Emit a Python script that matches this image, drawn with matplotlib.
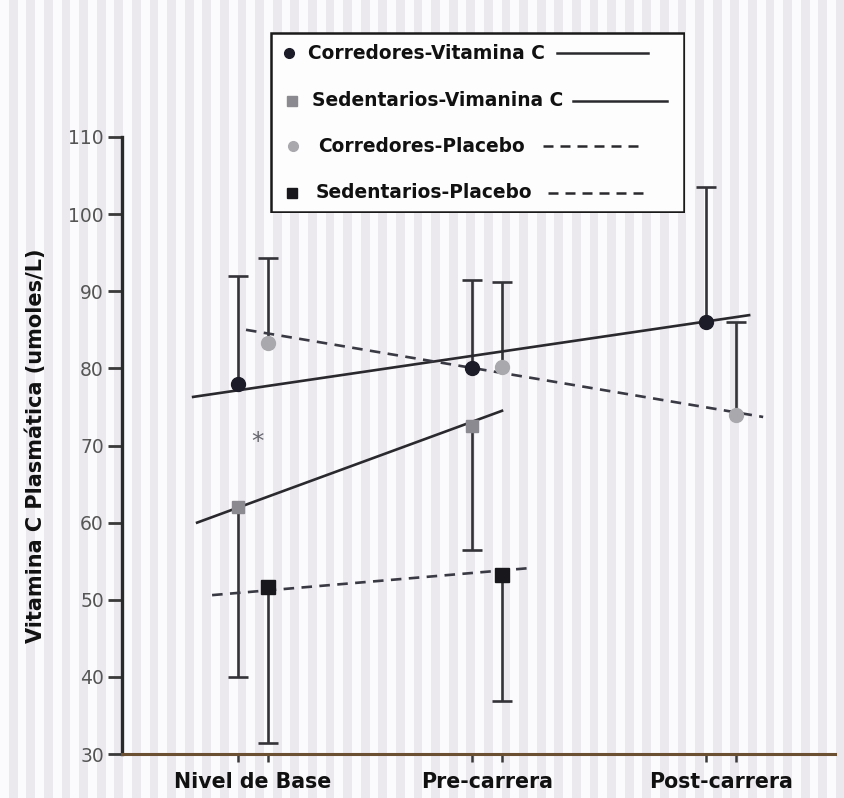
import matplotlib
matplotlib.use("Agg")
import matplotlib.pyplot as plt
from matplotlib.patches import Rectangle
import numpy as np

# data
categories = ["Nivel de Base", "Pre-carrera", "Post-carrera"]

corr_vit = [78.0, 80.0, 86.0]
corr_vit_err = [14.0, 11.5, 17.5]          # upward only
corr_pla = [83.3, 80.2, 74.0]
corr_pla_err = [11.0, 11.0, 12.0]          # upward only
sed_vit = [62.0, 72.5]
sed_vit_err = [22.0, 16.0]                 # downward only
sed_pla = [51.7, 53.2]
sed_pla_err = [20.3, 16.3]                 # downward only

# trend lines (start/end in category units)
corr_vit_fit_x = [-0.256, 2.12]
corr_vit_fit_y = [76.3, 86.9]
sed_vit_fit_x = [-0.239, 1.064]
sed_vit_fit_y = [60.0, 74.5]
corr_pla_fit_x = [-0.03, 2.18]
corr_pla_fit_y = [85.0, 73.7]
sed_pla_fit_x = [-0.175, 1.18]
sed_pla_fit_y = [50.6, 54.1]

legend_labels = ["Corredores-Vitamina C", "Sedentarios-Vimanina C",
                 "Corredores-Placebo", "Sedentarios-Placebo"]

W, H = 844, 798
fig = plt.figure(figsize=(W / 100, H / 100), dpi=100)
fig.patch.set_facecolor("#fbfafc")

# striped paper background
bg = fig.add_axes([0, 0, 1, 1], zorder=-5)
bg.set_xlim(0, W)
bg.set_ylim(0, H)
bg.axis("off")
period = 17.6
for x0 in np.arange(0, W, period):
    bg.axvspan(x0 + period * 0.5, x0 + period, color="#ebe8ee", lw=0)

ax = fig.add_axes([122 / W, 1 - 754 / H, (835 - 122) / W, (754 - 137) / H])
ax.set_facecolor("none")
ax.set_xlim(-0.56, 2.487)
ax.set_ylim(30, 110)

off = 0.064
idx = np.arange(len(categories))
left = idx - off
right = idx + off

ink = "#2a2a2e"
bar_col = "#333338"


def one_sided(x, y, err, up):
    y = np.asarray(y)
    end = y + np.asarray(err) if up else y - np.asarray(err)
    ax.vlines(x, y, end, color=bar_col, lw=1.9, zorder=3)
    ax.plot(x, end, "_", color=bar_col, ms=15, mew=1.9, zorder=3)


one_sided(left, corr_vit, corr_vit_err, True)
one_sided(right, corr_pla, corr_pla_err, True)
one_sided(left[:2], sed_vit, sed_vit_err, False)
one_sided(right[:2], sed_pla, sed_pla_err, False)

# trend lines
dash = (0, (4, 2.8))
ax.plot(corr_vit_fit_x, corr_vit_fit_y, color=ink, lw=1.9, zorder=4)
ax.plot(sed_vit_fit_x, sed_vit_fit_y, color=ink, lw=1.9, zorder=4)
ax.plot(corr_pla_fit_x, corr_pla_fit_y, color="#3a3a44", lw=1.9, ls=dash, zorder=4)
ax.plot(sed_pla_fit_x, sed_pla_fit_y, color="#3a3a44", lw=1.9, ls=dash, zorder=4)

# markers
ax.plot(left, corr_vit, "o", color="#1c1c28", ms=10, zorder=5)
ax.plot(right, corr_pla, "o", color="#a9a9ad", ms=10, zorder=5)
ax.plot(left[:2], sed_vit, "s", color="#8a8a90", ms=9, zorder=5)
ax.plot(right[:2], sed_pla, "s", color="#18181c", ms=9.5, zorder=5)

ax.text(0.017, 70.5, "*", ha="center", va="center", fontsize=18, color="#66666e")

# axes styling
for s in ["top", "right"]:
    ax.spines[s].set_visible(False)
ax.spines["left"].set_color("#2a2a2a")
ax.spines["left"].set_linewidth(2.4)
ax.spines["bottom"].set_color("#6b5032")
ax.spines["bottom"].set_linewidth(2.2)

ax.set_yticks(np.arange(30, 111, 10))
ax.tick_params(axis="y", direction="out", length=10, width=2, color="#3a3a3a",
               labelsize=13.5, labelcolor="#555555", pad=3)
ax.set_xticks(np.concatenate([left, right]))
ax.set_xticklabels([])
ax.tick_params(axis="x", which="major", direction="out", length=6, width=1.8, color="#3a3a3a")
ax.set_xticks(idx, minor=True)
ax.set_xticklabels(categories, minor=True, fontsize=14.8, fontweight="bold", color="#111111")
ax.tick_params(axis="x", which="minor", length=0, pad=13)

ax.set_ylabel("Vitamina C Plasmática (umoles/L)", fontsize=15, fontweight="bold",
              color="#111111", labelpad=16)

# legend box (pixel coordinates inside an inset axes)
lg = fig.add_axes([270 / W, 1 - 213 / H, 415 / W, 181 / H], zorder=6)
lg.set_xlim(270, 685)
lg.set_ylim(213, 32)
lg.axis("off")
lg.add_patch(Rectangle((271, 33), 413, 179, facecolor="#fdfdfd", edgecolor="#1a1a1a", lw=1.8))

rows_y = [53, 101, 146, 193]
mk_x = [289, 292, 293, 292]
txt_x = [308, 312, 318, 316]
line_x = [(557, 648), (573, 667), (543, 642), (548, 643)]
mk_style = [("o", "#1c1c28", 7), ("s", "#8a8a90", 7), ("o", "#a9a9ad", 7), ("s", "#18181c", 7)]
ls_style = ["-", "-", dash, dash]
for i, lab in enumerate(legend_labels):
    m, c, ms = mk_style[i]
    lg.plot([mk_x[i]], [rows_y[i]], m, color=c, ms=ms)
    lg.text(txt_x[i], rows_y[i], lab, ha="left", va="center", fontsize=13.4,
            fontweight="bold", color="#111111")
    lg.plot(line_x[i], [rows_y[i], rows_y[i]], color=ink, lw=1.8, ls=ls_style[i])

fig.savefig("out.png", dpi=100, facecolor=fig.get_facecolor())
